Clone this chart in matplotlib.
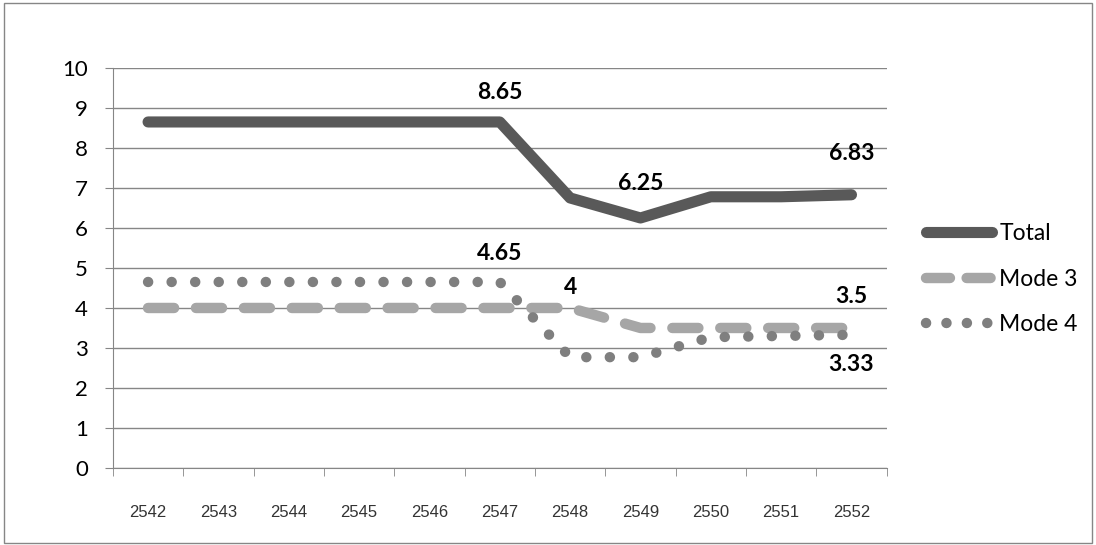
import matplotlib.pyplot as plt
from matplotlib.lines import Line2D
from matplotlib.patches import Rectangle

years = ["2542", "2543", "2544", "2545", "2546", "2547", "2548", "2549", "2550", "2551", "2552"]
total = [8.65, 8.65, 8.65, 8.65, 8.65, 8.65, 6.75, 6.25, 6.78, 6.78, 6.83]
mode3 = [4, 4, 4, 4, 4, 4, 4, 3.5, 3.5, 3.5, 3.5]
mode4 = [4.65, 4.65, 4.65, 4.65, 4.65, 4.65, 2.77, 2.77, 3.27, 3.30, 3.33]

plt.rcParams['font.family'] = ['Lato', 'DejaVu Sans']

fig = plt.figure(figsize=(10.96, 5.45), dpi=100)
ax = fig.add_axes([0.103, 0.1413, 0.706, 0.734])

x = list(range(len(years)))
ax.plot(x, total, color="#595959", lw=8, solid_capstyle="round", solid_joinstyle="round", zorder=3)
ax.plot(x, mode3, color="#a6a6a6", lw=7.5, dashes=(2.5, 2.1), dash_capstyle="round", zorder=2)
ax.plot(x, mode4, color="#7f7f7f", lw=7.5, dashes=(0.01, 2.25), dash_capstyle="round", zorder=2)

# data labels
lab = dict(fontsize=16.5, fontweight="bold", ha="center", va="center", color="black")
ax.text(5, 9.38, "8.65", **lab)
ax.text(7, 7.12, "6.25", **lab)
ax.text(10, 7.87, "6.83", **lab)
ax.text(5, 5.37, "4.65", **lab)
ax.text(6, 4.52, "4", **lab)
ax.text(10, 4.28, "3.5", **lab)
ax.text(10, 2.58, "3.33", **lab)

ax.set_xlim(-0.5, len(years) - 0.5)
ax.set_ylim(0, 10)
ax.set_yticks(range(0, 11))
ax.tick_params(axis="y", labelsize=16, length=6, color="#868686", pad=12)
ax.set_xticks(x)
ax.set_xticklabels(years, fontsize=12, family="Liberation Sans", color="#333333")
ax.tick_params(axis="x", length=0, pad=27)
ax.set_xticks([i - 0.5 for i in range(len(years) + 1)], minor=True)
ax.tick_params(axis="x", which="minor", length=6, color="#868686")
ax.grid(axis="y", color="#868686", lw=1)
ax.set_axisbelow(True)
for s in ["top", "right"]:
    ax.spines[s].set_visible(False)
ax.spines["left"].set_color("#868686")
ax.spines["bottom"].set_color("#868686")

# legend handles with patterns tuned to the short handle
handles = [
    Line2D([], [], color="#595959", lw=8, solid_capstyle="round"),
    Line2D([], [], color="#a6a6a6", lw=7.5, dashes=(2.3, 1.6), dash_capstyle="round"),
    Line2D([], [], color="#7f7f7f", lw=7.5, dashes=(0.01, 1.95), dash_capstyle="round"),
]
fig.legend(handles, ["Total", "Mode 3", "Mode 4"], loc="center left", bbox_to_anchor=(0.826, 0.488),
           frameon=False, fontsize=16.5, handlelength=2.9, handletextpad=0.3, labelspacing=1.05)

fig.patches.append(Rectangle((0.004, 0.004), 0.992, 0.99, transform=fig.transFigure,
                             fill=False, edgecolor="#868686", lw=1))

fig.savefig("out.png", dpi=100)
